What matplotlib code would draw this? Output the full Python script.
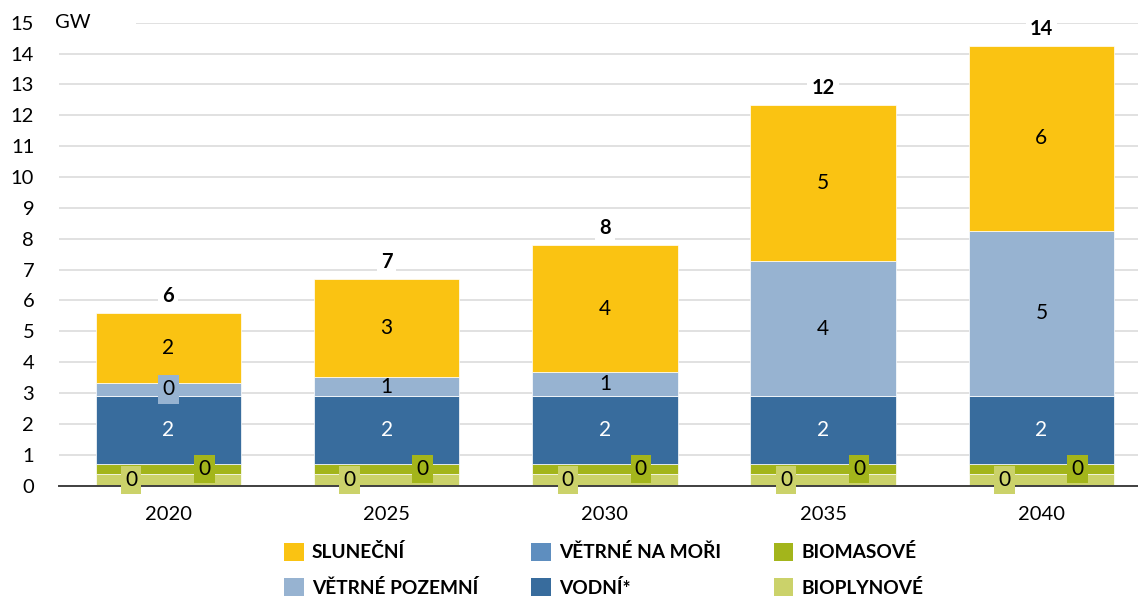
import matplotlib
matplotlib.use('Agg')
import matplotlib.pyplot as plt
from matplotlib.patches import Patch, Rectangle
import matplotlib.transforms as mtransforms

plt.rcParams['font.family'] = ['Lato', 'DejaVu Sans']

# ---- data (GW) ----
years = ['2020', '2025', '2030', '2035', '2040']
bioplynove = [0.38, 0.38, 0.38, 0.38, 0.38]
biomasove = [0.31, 0.31, 0.31, 0.31, 0.31]
vodni = [2.21, 2.21, 2.21, 2.21, 2.21]
vetrne_na_mori = [0.0, 0.0, 0.0, 0.0, 0.0]
vetrne_pozemni = [0.43, 0.61, 0.77, 4.37, 5.36]
slunecni = [2.27, 3.18, 4.13, 5.06, 6.00]

legend_labels = ['SLUNEČNÍ', 'VĚTRNÉ POZEMNÍ', 'VĚTRNÉ NA MOŘI', 'VODNÍ*', 'BIOMASOVÉ', 'BIOPLYNOVÉ']

# ---- styling ----
c_slun = '#FAC312'
c_poz = '#97B3D1'
c_mori = '#5E8EBF'
c_vodni = '#386C9D'
c_biom = '#A3B51B'
c_biop = '#CBD26A'

# series bottom -> top: (values, color, label text color, label x offset, show label)
series = [
    (bioplynove, c_biop, 'black', -0.17, True),
    (biomasove, c_biom, 'black', 0.165, True),
    (vodni, c_vodni, 'white', 0.0, True),
    (vetrne_na_mori, c_mori, 'black', 0.0, False),
    (vetrne_pozemni, c_poz, 'black', 0.0, True),
    (slunecni, c_slun, 'black', 0.0, True),
]

fig = plt.figure(figsize=(11.38, 5.98), dpi=100)
ax = fig.add_axes([0.052, 0.188, 0.959, 0.774])

x = list(range(len(years)))
width = 0.667
bottoms = [0.0] * len(years)
for vals, col, tcol, dx, show in series:
    ax.bar(x, vals, width, bottom=bottoms, color=col, edgecolor='white', linewidth=0.5, zorder=2)
    if show:
        for i, v in enumerate(vals):
            box = dict(boxstyle='square,pad=0.2', fc=col, ec='none') if v < 0.5 else None
            ax.text(i + dx, bottoms[i] + v / 2, f"{round(v):.0f}", ha='center', va='center',
                    fontsize=15, color=tcol, zorder=4, bbox=box)
    bottoms = [b + v for b, v in zip(bottoms, vals)]

for i, t in enumerate(bottoms):
    ax.annotate(f"{round(t):.0f}", (i, t), xytext=(0, 5), textcoords='offset points',
                ha='center', va='bottom', fontsize=14.5, fontweight='bold', zorder=4,
                bbox=dict(boxstyle='square,pad=0.2', fc='white', ec='none'))

ax.set_xlim(-0.5, 4.5)
ax.set_ylim(0, 15)
ax.set_yticks(range(0, 16))
ax.set_xticks(x)
ax.set_xticklabels(years)
ax.tick_params(axis='y', length=0, pad=18, labelsize=14.5)
ax.tick_params(axis='x', length=0, pad=15, labelsize=14.5)
ax.yaxis.grid(True, color='#dcdcdc', linewidth=1.2)
ax.set_axisbelow(True)
for s in ['top', 'right', 'left']:
    ax.spines[s].set_visible(False)
ax.spines['bottom'].set_color('#404040')
ax.spines['bottom'].set_linewidth(1.4)
ax.spines['bottom'].set_zorder(3)

# unit label with gap in the top gridline
trans = mtransforms.blended_transform_factory(ax.transAxes, ax.transData)
ax.add_patch(Rectangle((0, 14.85), 0.07, 0.3, transform=trans, fc='white', ec='none',
                       clip_on=False, zorder=1.5))
ax.text(-0.004, 15, 'GW', transform=trans, ha='left', va='center', fontsize=14.5, zorder=3)

handles = [Patch(fc=c) for c in [c_slun, c_poz, c_mori, c_vodni, c_biom, c_biop]]
leg = fig.legend(handles, legend_labels, loc='upper left', bbox_to_anchor=(0.2495, 0.092),
                 ncol=3, frameon=False, prop=dict(weight='bold', size=13.8),
                 handlelength=1.04, handleheight=1.04, handletextpad=0.42,
                 columnspacing=2.75, labelspacing=0.88, borderpad=0, borderaxespad=0)

fig.savefig('out.png', dpi=100)
